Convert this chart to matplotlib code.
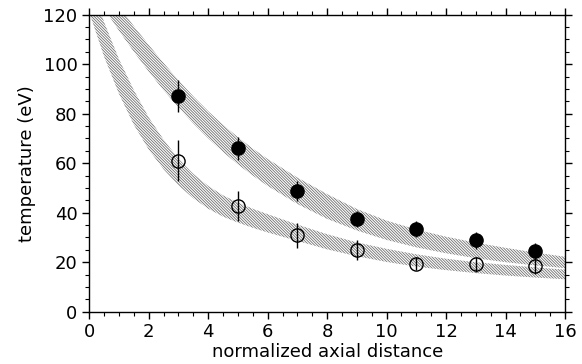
import matplotlib
matplotlib.use("Agg")
import matplotlib.pyplot as plt
from matplotlib.ticker import MultipleLocator

# measured data points
x_pts = [3, 5, 7, 9, 11, 13, 15]
t_filled = [87.2, 66.0, 48.8, 37.6, 33.3, 28.8, 24.4]
e_filled = [6.5, 4.7, 4.0, 3.2, 3.3, 3.3, 3.5]
t_open = [61.0, 42.8, 30.8, 24.8, 19.4, 19.1, 18.4]
e_open = [8.2, 6.0, 5.0, 4.0, 2.7, 3.0, 3.0]

# hatched model bands (edges)
band_x = [0, 0.5, 1, 1.5, 2, 2.5, 3, 3.5, 4, 4.5, 5, 5.5, 6,
          7, 8, 9, 10, 11, 12, 13, 14, 15, 16]
upper_top = [140, 131.5, 123.3, 115.4, 107.8, 100.5, 93.5, 87, 81, 75.5, 70.5, 65.9, 61.7,
             54.2, 47.5, 41.5, 36.8, 33.2, 30.3, 27.9, 25.8, 23.9, 22.2]
upper_bot = [132, 122.5, 113.5, 105, 97, 89.5, 82.5, 76, 70, 64.5, 59.5, 55, 50.8,
             43.5, 37.5, 32.8, 29, 26, 23.6, 21.6, 20, 18.7, 17.6]
lower_top = [135, 117, 102, 89.5, 78.5, 69.5, 61.8, 55.7, 50.8, 47, 44.1, 41.6, 39.4,
             35.2, 31.3, 28, 25.4, 23.2, 21.4, 20, 18.9, 17.9, 17]
lower_bot = [121, 103, 88, 75.5, 65.5, 57.5, 51, 45.8, 41.6, 38.4, 36, 33.9, 32,
             28.6, 25.2, 22.4, 20.1, 18.2, 16.8, 15.6, 14.6, 13.8, 13.1]

plt.rcParams['hatch.linewidth'] = 0.6
fig = plt.figure(figsize=(5.82, 3.64), dpi=100)
ax = fig.add_axes([0.1534, 0.1437, 0.8174, 0.8159])

for top, bot in [(upper_top, upper_bot), (lower_top, lower_bot)]:
    ax.fill_between(band_x, bot, top, facecolor='none', edgecolor='#707070',
                    hatch='\\' * 12, linewidth=0)

ax.errorbar(x_pts, t_filled, yerr=e_filled, fmt='o', color='black', ms=9.5,
            mfc='black', mec='black', elinewidth=1.0, capsize=0, zorder=3)
ax.errorbar(x_pts, t_open, yerr=e_open, fmt='o', color='black', ms=9.5,
            mfc='none', mec='black', mew=1.0, elinewidth=1.0, capsize=0, zorder=3)

ax.set_xlim(0, 16)
ax.set_ylim(0, 120)
ax.xaxis.set_major_locator(MultipleLocator(2))
ax.xaxis.set_minor_locator(MultipleLocator(0.5))
ax.yaxis.set_major_locator(MultipleLocator(20))
ax.yaxis.set_minor_locator(MultipleLocator(5))
ax.tick_params(which='both', direction='out', top=True, right=True, labelsize=13)
ax.tick_params(which='major', length=5, width=1)
ax.tick_params(which='minor', length=3, width=0.8)
for s in ax.spines.values():
    s.set_linewidth(1.0)

ax.set_xlabel('normalized axial distance', fontsize=13, labelpad=1)
ax.set_ylabel('temperature (eV)', fontsize=13, labelpad=5)

fig.savefig('out.png', dpi=100)
